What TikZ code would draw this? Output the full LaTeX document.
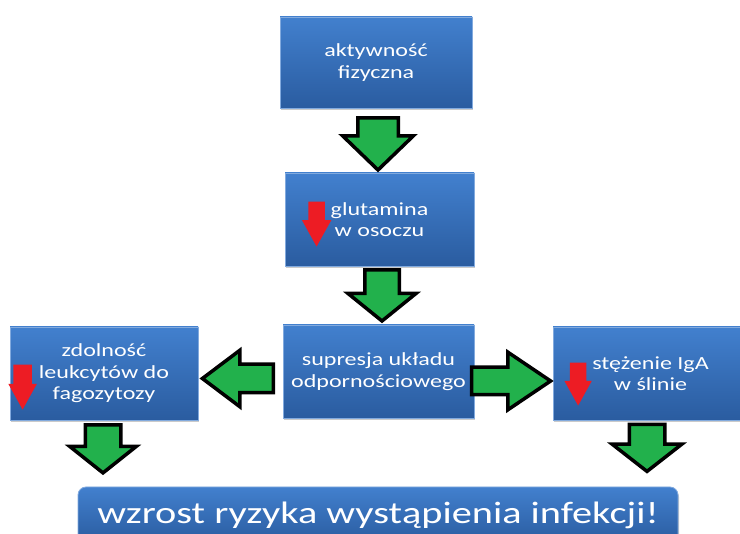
\documentclass[tikz,border=0pt]{standalone}
\usepackage{fontspec}
\setmainfont{Carlito}[FakeStretch=1.3]
\usetikzlibrary{shapes.arrows,shadows,calc}
\definecolor{boxtop}{RGB}{66,128,206}
\definecolor{boxbottom}{RGB}{42,92,160}
\definecolor{boxedge}{RGB}{130,170,222}
\definecolor{arrowgreen}{RGB}{34,177,76}
\definecolor{arrowred}{RGB}{237,28,36}

\begin{document}
\begin{tikzpicture}[x=1pt, y=-1pt,
      box/.style={rectangle, draw=boxedge, line width=0.8pt, top color=boxtop, bottom color=boxbottom,
        text=white, align=center, font=\fontsize{18.5}{21.5}\selectfont, inner sep=2pt,
        drop shadow={shadow xshift=1pt, shadow yshift=-2pt, opacity=0.35, fill=black!60}},
      final/.style={box, rounded corners=8pt, minimum width=600, minimum height=56,
        font=\fontsize{31}{36}\selectfont},
      garrow/.style={single arrow, draw=black, fill=arrowgreen, line width=3.5pt, inner xsep=0pt,
        outer sep=0pt, anchor=tip},
      rarrow/.style={single arrow, fill=arrowred, inner xsep=0pt, rotate=-90, single arrow tip angle=58,
        anchor=tip}]
      \useasboundingbox (0,0) rectangle (740,534);
      \node[box, minimum width=192, minimum height=91](akt) at (376, 62.5){aktywność\\fizyczna};
      \node[box, minimum width=189, minimum height=93](glu) at (379.5, 219.5){glutamina\\w osoczu};
      \node[box, minimum width=191, minimum height=93](sup) at (378.5, 371.5){supresja układu\\odpornościowego};
      \node[box, minimum width=188, minimum height=93](zdol) at (104, 373.5){zdolność\\leukcytów do\\fagozytozy};
      \node[box, minimum width=187, minimum height=93](ste) at (646.5, 373.5){\hspace*{8pt}stężenie IgA\\\hspace*{8pt}w ślinie};
      \node[final](wzr) at (378, 515){wzrost ryzyka wystąpienia infekcji!};
      \node[rarrow, minimum height=45, inner ysep=8, single arrow head extend=6.5](r1) at ($(glu.west)+(32,27.5)$){};
      \node[rarrow, minimum height=45, inner ysep=9, single arrow head extend=5](r2) at ($(zdol.west)+(13,36.5)$){};
      \node[rarrow, minimum height=43, inner ysep=8, single arrow head extend=5.5](r3) at ($(ste.west)+(25.5,32.5)$){};
      \node[garrow, rotate=-90, minimum height=52, inner ysep=18.5, single arrow head extend=15,
        single arrow tip angle=92](a1) at ($(glu.north)+(-1.5,-2.6)$){};
      \node[garrow, rotate=-90, minimum height=51, inner ysep=15.5, single arrow head extend=17,
        single arrow tip angle=102](a2) at ($(sup.north)+(3.5,-3.6)$){};
      \node[garrow, rotate=180, minimum height=71, inner ysep=12.5, single arrow head extend=14,
        single arrow tip angle=74](a3) at ($(zdol.east)+(4,5)$){};
      \node[garrow, minimum height=79, inner ysep=12, single arrow head extend=15,
        single arrow tip angle=68](a4) at ($(ste.west)+(-2,7.5)$){};
      \node[garrow, rotate=-90, minimum height=48, inner ysep=16, single arrow head extend=15.5,
        single arrow tip angle=103](a5) at ($(zdol.south)+(-1,52.5)$){};
      \node[garrow, rotate=-90, minimum height=47, inner ysep=16, single arrow head extend=17,
        single arrow tip angle=104](a6) at ($(ste.south)+(0.5,51)$){};
    \end{tikzpicture}
\end{document}
